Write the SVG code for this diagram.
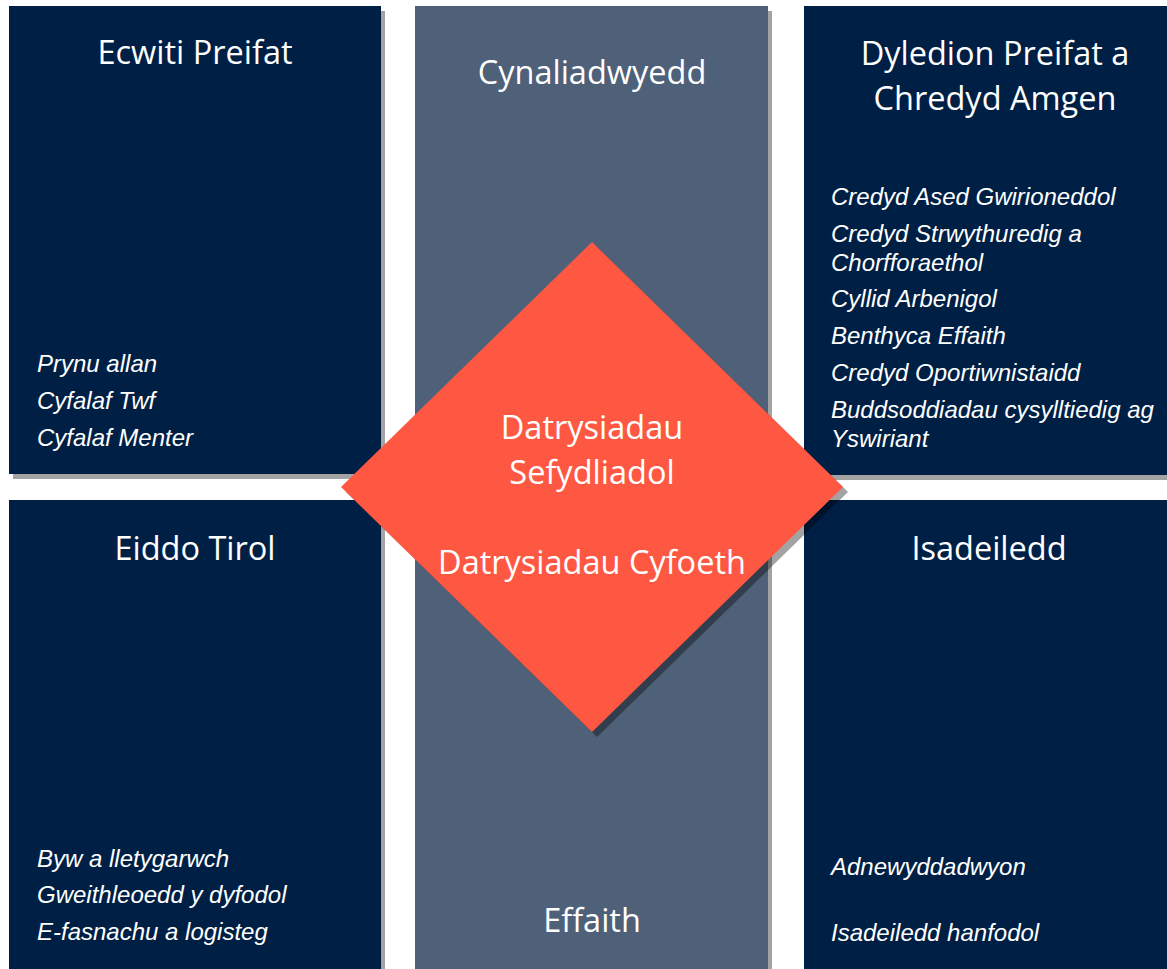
<svg xmlns="http://www.w3.org/2000/svg" width="1167" height="969" viewBox="0 0 1167 969">
  <style>
    .box{fill:#001F45}
    .col{fill:#4F6079}
    .shd{fill:#000;fill-opacity:0.36}
    .title{font-family:"Open Sans","Noto Sans",sans-serif;font-size:32.5px;fill:#fff;text-anchor:middle}
    .item{font-family:'Liberation Sans',sans-serif;font-style:italic;font-size:24px;fill:#fff}
  </style>
  <rect width="1167" height="969" fill="#fff"/>
  <g id="sustainability">
    <rect class="shd" x="419" y="11" width="353" height="970"/>
    <rect class="col" x="415" y="6" width="353" height="970"/>
    <text class="title" x="592" y="84">Cynaliadwyedd</text>
    <text class="title" x="592" y="932">Effaith</text>
  </g>
  <g id="private-equity">
    <rect class="shd" x="13" y="11" width="372" height="468"/>
    <rect class="box" x="9" y="6" width="372" height="468"/>
    <text class="title" x="195" y="64">Ecwiti Preifat</text>
    <text class="item" x="37" y="372">Prynu allan</text>
    <text class="item" x="37" y="409">Cyfalaf Twf</text>
    <text class="item" x="37" y="446">Cyfalaf Menter</text>
  </g>
  <g id="private-debt">
    <rect class="shd" x="808" y="11" width="380" height="469"/>
    <rect class="box" x="804" y="6" width="380" height="469"/>
    <text class="title" x="995" y="65">Dyledion Preifat a</text>
    <text class="title" x="995" y="110">Chredyd Amgen</text>
    <text class="item" x="831" y="205">Credyd Ased Gwirioneddol</text>
    <text class="item" x="831" y="242">Credyd Strwythuredig a</text>
    <text class="item" x="831" y="271">Chorfforaethol</text>
    <text class="item" x="831" y="307">Cyllid Arbenigol</text>
    <text class="item" x="831" y="344">Benthyca Effaith</text>
    <text class="item" x="831" y="381">Credyd Oportiwnistaidd</text>
    <text class="item" x="831" y="418">Buddsoddiadau cysylltiedig ag</text>
    <text class="item" x="831" y="447">Yswiriant</text>
  </g>
  <g id="real-estate">
    <rect class="shd" x="13" y="505" width="372" height="480"/>
    <rect class="box" x="9" y="500" width="372" height="480"/>
    <text class="title" x="195" y="560">Eiddo Tirol</text>
    <text class="item" x="37" y="867">Byw a lletygarwch</text>
    <text class="item" x="37" y="903">Gweithleoedd y dyfodol</text>
    <text class="item" x="37" y="940">E-fasnachu a logisteg</text>
  </g>
  <g id="infrastructure">
    <rect class="shd" x="808" y="505" width="380" height="480"/>
    <rect class="box" x="804" y="500" width="380" height="480"/>
    <text class="title" x="989" y="560">Isadeiledd</text>
    <text class="item" x="831" y="875">Adnewyddadwyon</text>
    <text class="item" x="831" y="941">Isadeiledd hanfodol</text>
  </g>
  <g id="solutions">
    <polygon class="shd" points="597,247 848,492 597,737 346,492"/>
    <polygon points="592,242 843,487 592,732 341,487" fill="#FF5842"/>
    <text class="title" x="592" y="439">Datrysiadau</text>
    <text class="title" x="592" y="484">Sefydliadol</text>
    <text class="title" x="592" y="574">Datrysiadau Cyfoeth</text>
  </g>
  <g id="connectors"/>
</svg>
